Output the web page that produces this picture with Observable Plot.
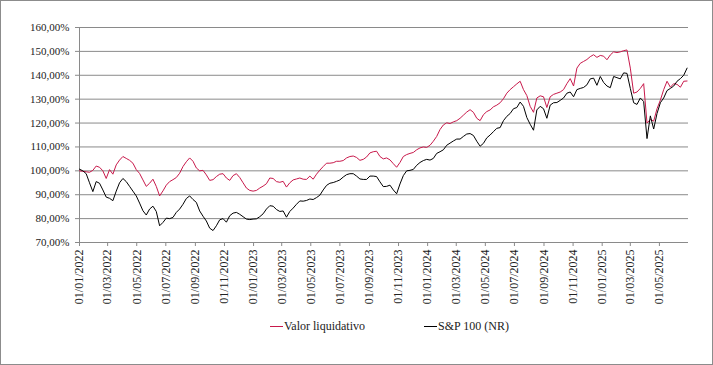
<!DOCTYPE html>
<html>
<head>
<meta charset="utf-8">
<script src="https://cdn.jsdelivr.net/npm/d3@7"></script>
<script src="https://cdn.jsdelivr.net/npm/@observablehq/plot@0.6"></script>
<style>
  html, body { margin: 0; padding: 0; background: #fff; }
  #wrap { position: relative; width: 713px; height: 365px; overflow: hidden; background: #fff; }
  #chart { position: absolute; left: 0; top: 0; }
  #frame { position: absolute; left: 0; top: 0; width: 713px; height: 365px; box-sizing: border-box; border: 1px solid #8c8c8c; pointer-events: none; }
  .leg { position: absolute; top: 319px; font-family: "Liberation Serif", serif; font-size: 12px; color: #222; white-space: nowrap; display: flex; align-items: center; }
  .leg .sw { display: inline-block; width: 13px; height: 0; border-top: 1.5px solid; margin-right: 1px; }
</style>
</head>
<body>
<div id="wrap">
  <div id="chart"></div>
  <div class="leg" style="left:270px"><span class="sw" style="border-color:#c8194b"></span>Valor liquidativo</div>
  <div class="leg" style="left:424px"><span class="sw" style="border-color:#000"></span>S&amp;P 100 (NR)</div>
  <div id="frame"></div>
</div>
<script>
const dates = [
"2022-01-01","2022-01-08","2022-01-15","2022-01-22","2022-01-29","2022-02-05","2022-02-12","2022-02-19","2022-02-26","2022-03-05","2022-03-12","2022-03-19","2022-03-26","2022-04-02","2022-04-09","2022-04-16","2022-04-23","2022-04-30","2022-05-07","2022-05-14","2022-05-21","2022-05-28","2022-06-04","2022-06-11","2022-06-18","2022-06-25","2022-07-02","2022-07-09","2022-07-16","2022-07-23","2022-07-30","2022-08-06","2022-08-13","2022-08-20","2022-08-27","2022-09-03","2022-09-10","2022-09-17","2022-09-24","2022-10-01","2022-10-08","2022-10-15","2022-10-22","2022-10-29","2022-11-05","2022-11-12","2022-11-19","2022-11-26","2022-12-03","2022-12-10","2022-12-17","2022-12-24","2022-12-31",
"2023-01-07","2023-01-14","2023-01-21","2023-01-28","2023-02-04","2023-02-11","2023-02-18","2023-02-25","2023-03-04","2023-03-11","2023-03-18","2023-03-25","2023-04-01","2023-04-08","2023-04-15","2023-04-22","2023-04-29","2023-05-06","2023-05-13","2023-05-20","2023-05-27","2023-06-03","2023-06-10","2023-06-17","2023-06-24","2023-07-01","2023-07-08","2023-07-15","2023-07-22","2023-07-29","2023-08-05","2023-08-12","2023-08-19","2023-08-26","2023-09-02","2023-09-09","2023-09-16","2023-09-23","2023-09-30","2023-10-07","2023-10-14","2023-10-21","2023-10-28","2023-11-04","2023-11-11","2023-11-18","2023-11-25","2023-12-02","2023-12-09","2023-12-16","2023-12-23","2023-12-30",
"2024-01-06","2024-01-13","2024-01-20","2024-01-27","2024-02-03","2024-02-10","2024-02-17","2024-02-24","2024-03-02","2024-03-09","2024-03-16","2024-03-23","2024-03-30","2024-04-06","2024-04-13","2024-04-20","2024-04-27","2024-05-04","2024-05-11","2024-05-18","2024-05-25","2024-06-01","2024-06-08","2024-06-15","2024-06-22","2024-06-29","2024-07-06","2024-07-13","2024-07-20","2024-07-27","2024-08-03","2024-08-10","2024-08-17","2024-08-24","2024-08-31","2024-09-07","2024-09-14","2024-09-21","2024-09-28","2024-10-05","2024-10-12","2024-10-19","2024-10-26","2024-11-02","2024-11-09","2024-11-16","2024-11-23","2024-11-30","2024-12-07","2024-12-14","2024-12-21","2024-12-28",
"2025-01-04","2025-01-11","2025-01-18","2025-01-25","2025-02-01","2025-02-08","2025-02-15","2025-02-22","2025-03-01","2025-03-08","2025-03-15","2025-03-22","2025-03-29","2025-04-05","2025-04-12","2025-04-19","2025-04-26","2025-05-03","2025-05-10","2025-05-17","2025-05-24","2025-05-31","2025-06-07","2025-06-14","2025-06-21","2025-06-28"
];

const valorLiquidativo = [
100, 99.8, 99.6, 99.4, 100.2, 102.0, 101.5, 100.0, 96.8, 100.5,
98.6, 102.5, 104.5, 106.0, 105.2, 104.4, 103.2, 100.5, 98.9, 96.2,
93.5, 94.8, 96.5, 93.5, 89.5, 91.6, 94.0, 95.5, 96.3, 97.2,
99.0, 101.8, 103.8, 105.4, 104.0, 101.2, 100.0, 100.2, 98.3, 96.0,
96.3, 97.6, 98.6, 98.8, 97.0, 96.0, 98.0, 98.8, 97.2, 95.0,
92.8, 91.8, 91.5, 91.8, 92.8, 93.6, 94.6, 97.0, 96.8, 95.5,
95.2, 95.6, 93.2, 95.0, 96.2, 96.6, 97.0, 96.5, 96.4, 97.8,
96.5, 98.6, 100.3, 101.8, 103.2, 103.2, 103.4, 104.0, 104.0, 104.3,
105.4, 106.0, 106.2, 105.6, 104.4, 104.8, 105.8, 107.5, 108.0, 108.2,
106.0, 105.0, 105.4, 104.6, 103.0, 101.5, 103.5, 106.0, 106.8, 107.3,
107.7, 108.8, 109.6, 110.0, 109.8, 110.7, 112.4, 114.4, 117.3, 119.2,
120.1, 119.8, 120.5, 121.0, 122.0, 123.3, 124.6, 125.6, 124.5, 122.0,
121.0, 123.5, 124.8, 125.5, 126.8, 127.5, 128.5, 130.2, 132.5, 134.0,
135.2, 136.4, 137.5, 134.0, 131.5, 127.0, 124.5, 130.5, 131.4, 131.0,
126.5, 131.0, 132.0, 132.5, 133.0, 134.0, 136.5, 138.6, 135.5, 143.0,
145.0, 145.8, 146.6, 147.8, 148.6, 147.5, 148.3, 148.0, 146.5, 148.5,
149.8, 149.5, 149.8, 150.3, 150.6, 143.0, 132.5, 133.0, 134.5, 136.5,
120.0, 121.5, 120.8, 126.0, 129.6, 134.0, 137.5, 135.0, 136.5, 136.2,
135.0, 137.5, 137.6
];

const sp100NR = [
100.7, 100.0, 98.8, 95.0, 91.3, 95.5, 94.8, 92.0, 89.0, 88.5,
87.5, 91.5, 95.0, 96.8, 95.5, 93.5, 91.5, 89.5, 86.5, 83.3,
81.5, 84.0, 85.2, 83.0, 77.0, 78.4, 80.2, 80.0, 80.5, 82.6,
84.0, 86.0, 88.4, 89.5, 88.0, 86.8, 83.2, 81.0, 79.0, 76.0,
75.0, 77.0, 79.5, 80.0, 78.5, 81.2, 82.3, 82.6, 81.8, 80.8,
79.8, 79.6, 79.8, 79.9, 80.8, 82.0, 84.0, 85.4, 85.2, 83.8,
83.0, 83.2, 80.6, 83.0, 84.4, 86.0, 87.4, 87.3, 87.6, 88.2,
88.0, 88.8, 89.8, 92.0, 93.9, 94.8, 95.1, 95.6, 96.2, 97.4,
98.4, 98.8, 98.8, 97.8, 96.6, 96.4, 96.4, 97.8, 97.8, 97.6,
95.4, 93.4, 93.5, 94.0, 92.0, 90.4, 94.5, 98.0, 100.0, 100.2,
100.6, 102.3, 103.5, 104.3, 104.8, 104.5, 105.2, 107.3, 108.0, 108.8,
110.7, 111.6, 112.5, 113.3, 113.3, 114.4, 115.4, 115.6, 114.8, 112.4,
110.3, 111.5, 113.8, 115.0, 116.4, 117.8, 118.1, 121.0, 122.8, 124.0,
126.0, 126.5, 128.8, 127.0, 122.3, 119.5, 117.0, 125.5, 127.0, 126.0,
122.0, 127.5, 128.5, 128.6, 129.5, 130.5, 132.5, 133.0, 131.0, 134.0,
134.5, 134.9, 136.0, 138.5, 138.8, 135.8, 139.5, 137.0, 135.5, 134.8,
139.5, 139.0, 138.5, 141.0, 140.8, 134.5, 128.5, 127.8, 130.5, 129.0,
113.5, 123.0, 117.5, 124.0, 128.5, 130.5, 133.6, 134.5, 135.5, 137.5,
138.6, 140.0, 143.0
];

const yTicks = [70, 80, 90, 100, 110, 120, 130, 140, 150, 160];
const xTickLabels = ["01/01/2022","01/03/2022","01/05/2022","01/07/2022","01/09/2022","01/11/2022",
  "01/01/2023","01/03/2023","01/05/2023","01/07/2023","01/09/2023","01/11/2023",
  "01/01/2024","01/03/2024","01/05/2024","01/07/2024","01/09/2024","01/11/2024",
  "01/01/2025","01/03/2025","01/05/2025"];
const xDomain = ["2022-01-01", "2025-07-01"];

const parseLabel = s => { const [d, m, y] = s.split("/"); return new Date(Date.UTC(+y, +m - 1, +d)); };
const xTicks = xTickLabels.map(parseLabel);
const table = dates.map((d, i) => ({date: new Date(d + "T00:00:00Z"), valor: valorLiquidativo[i], sp: sp100NR[i]}));
const fmtY = v => v.toFixed(2).replace(".", ",") + "%";
const fmtX = d3.utcFormat("%d/%m/%Y");
const grey = "#8a8a8a";

const chart = Plot.plot({
  width: 713,
  height: 312,
  marginLeft: 79,
  marginRight: 25,
  marginTop: 27,
  marginBottom: 70,
  style: {fontFamily: "'Liberation Serif', serif", background: "transparent", color: "#222"},
  x: {type: "utc", domain: xDomain.map(d => new Date(d + "T00:00:00Z"))},
  y: {domain: [70, 160]},
  marks: [
    Plot.ruleY(yTicks, {stroke: grey, strokeWidth: 1}),
    Plot.ruleX([new Date(xDomain[0] + "T00:00:00Z")], {stroke: grey, strokeWidth: 1}),
    Plot.axisY({ticks: yTicks, tickFormat: fmtY, tickSize: 4, tickPadding: 6, fontSize: 11, stroke: grey, fill: "#222", label: null}),
    Plot.axisX({ticks: xTicks, tickFormat: fmtX, tickRotate: -90, tickSize: 4, tickPadding: 3, fontSize: 12, stroke: grey, fill: "#222", label: null}),
    Plot.lineY(table, {x: "date", y: "valor", stroke: "#c8194b", strokeWidth: 1}),
    Plot.lineY(table, {x: "date", y: "sp", stroke: "#000", strokeWidth: 1})
  ]
});
document.getElementById("chart").appendChild(chart);
</script>
</body>
</html>
